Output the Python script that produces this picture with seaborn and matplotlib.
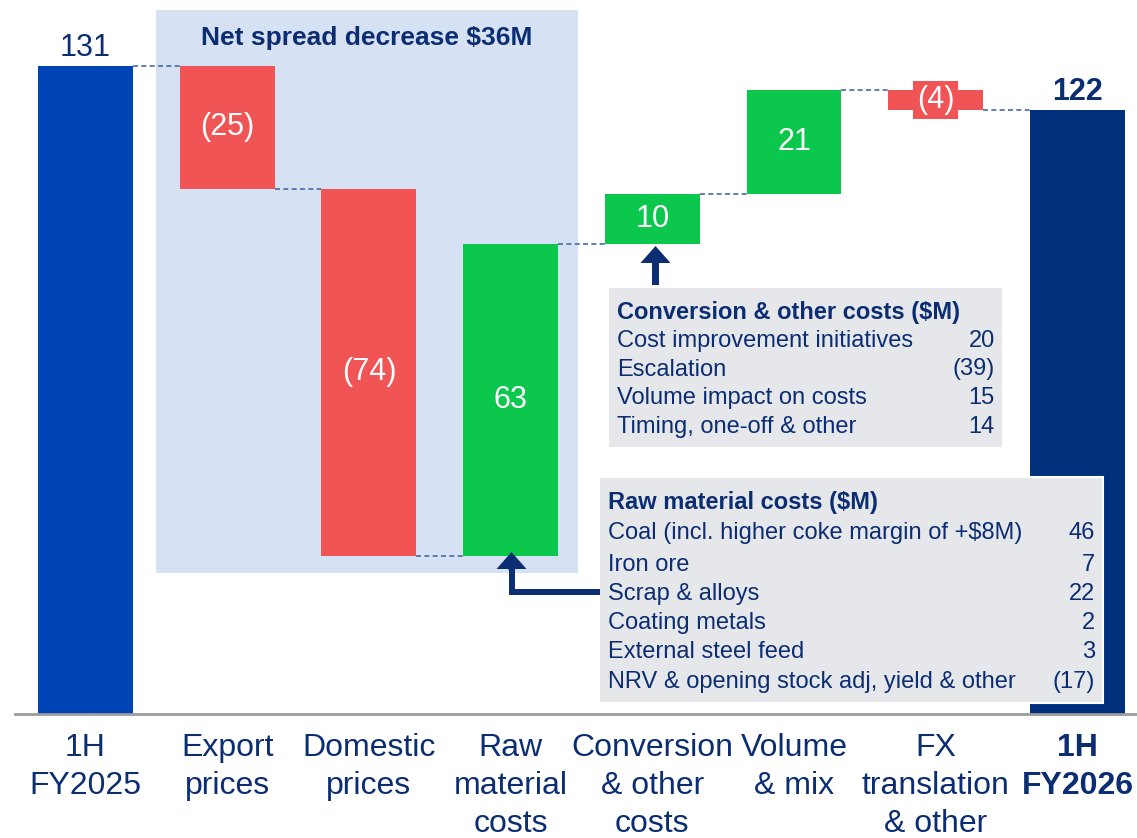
import matplotlib
matplotlib.use("Agg")
import matplotlib.pyplot as plt
from matplotlib.patches import Rectangle, FancyArrow
from matplotlib.lines import Line2D
import seaborn as sns

# waterfall data ($M)
categories = ["1H\nFY2025", "Export\nprices", "Domestic\nprices", "Raw\nmaterial\ncosts",
              "Conversion\n& other\ncosts", "Volume\n& mix", "FX\ntranslation\n& other", "1H\nFY2026"]
changes = [131, -25, -74, 63, 10, 21, -4, 122]
is_total = [True, False, False, False, False, False, False, True]

conv_title = "Conversion & other costs ($M)"
conv_items = ["Cost improvement initiatives", "Escalation", "Volume impact on costs", "Timing, one-off & other"]
conv_values = ["20", "(39)", "15", "14"]

raw_title = "Raw material costs ($M)"
raw_items = ["Coal (incl. higher coke margin of +$8M)", "Iron ore", "Scrap & alloys",
             "Coating metals", "External steel feed", "NRV & opening stock adj, yield & other"]
raw_values = ["46", "7", "22", "2", "3", "(17)"]

spread_title = "Net spread decrease $36M"

NAVY = "#0B2D72"
RED = "#F05454"
GREEN = "#0BC84C"
FIRST = "#0043B4"
LAST = "#002F7C"
SHADE = "#D6E1F3"
GREYBOX = "#E6E7EB"

W, H = 1137, 838

# build floating bars
bottoms, heights, levels, colors = [], [], [], []
running = 0
for i, (v, tot) in enumerate(zip(changes, is_total)):
    if tot:
        bottoms.append(0)
        heights.append(v)
        running = v
        colors.append(FIRST if i == 0 else LAST)
    else:
        new = running + v
        bottoms.append(min(running, new))
        heights.append(abs(v))
        running = new
        colors.append(GREEN if v > 0 else RED)
    levels.append(running)

sns.set_theme(style="white")
plt.rcParams['font.family'] = ['Liberation Sans', 'DejaVu Sans']

fig = plt.figure(figsize=(W / 100, H / 100), dpi=100)
step = 141.7
left_px = 85.5 - 0.5 * step
ax = fig.add_axes([left_px / W, (H - 714) / H, 7.92 * step / W, 714 / H])

bar_w = 0.67
sns.barplot(x=categories, y=heights, hue=categories, palette=colors, legend=False,
            width=bar_w, saturation=1, ax=ax, zorder=2)
for patch, b in zip(ax.patches, bottoms):
    patch.set_y(b)
    patch.set_linewidth(0)

ax.set_xlim(-0.5, 7.42)
ax.set_ylim(0, 714 / 4.95)


def fpx(x, y):
    return x / W, 1 - y / H


# shaded "net spread" region
ax.add_patch(Rectangle(fpx(156, 573), (578 - 156) / W, (573 - 10) / H, transform=fig.transFigure,
                       facecolor=SHADE, edgecolor="none", zorder=0))
fig.text(*fpx(367, 38), spread_title, ha="center", va="center", fontsize=19,
         fontweight="bold", color=NAVY)

# dashed connectors
for i in range(len(changes) - 1):
    ax.hlines(levels[i], i + bar_w / 2, i + 1 - bar_w / 2, colors="#4A6AA5",
              linestyles=(0, (3, 2)), linewidth=1.2, zorder=1)

# value labels
for i, v in enumerate(changes):
    txt = f"({abs(v)})" if v < 0 else str(v)
    if is_total[i]:
        ax.annotate(txt, (i, heights[i]), xytext=(0, 2), textcoords="offset points",
                    ha="center", va="bottom", fontsize=22, color=NAVY,
                    fontweight="bold" if i == len(changes) - 1 else "normal")
    elif abs(v) < 8:
        ax.text(i, bottoms[i] + heights[i] / 2, txt, ha="center", va="center", fontsize=22,
                color="white", zorder=3,
                bbox=dict(boxstyle="square,pad=0.13", facecolor=RED, edgecolor="none"))
    else:
        ax.text(i, bottoms[i] + heights[i] / 2, txt, ha="center", va="center", fontsize=22,
                color="white", zorder=3)

# axes styling
for s in ["top", "right", "left"]:
    ax.spines[s].set_visible(False)
ax.spines["bottom"].set_color("#9C9C9C")
ax.spines["bottom"].set_linewidth(2)
ax.set_yticks([])
ax.set_ylabel("")
ax.tick_params(axis="x", length=0, pad=14, labelsize=23, labelcolor=NAVY)
for j, lab in enumerate(ax.get_xticklabels()):
    lab.set_multialignment("center")
    lab.set_linespacing(1.34)
    if j == len(categories) - 1:
        lab.set_fontweight("bold")

# conversion table
fig.add_artist(Rectangle(fpx(609, 447), (1002 - 609) / W, (447 - 288) / H,
                         transform=fig.transFigure, facecolor=GREYBOX, edgecolor="none", zorder=3))
fig.text(*fpx(617, 312), conv_title, ha="left", va="center", fontsize=17,
         fontweight="bold", color=NAVY, zorder=4)
for k, (item, val) in enumerate(zip(conv_items, conv_values)):
    y = 341 + k * 28.5
    fig.text(*fpx(617, y), item, ha="left", va="center", fontsize=17, color=NAVY, zorder=4)
    fig.text(*fpx(995, y), val, ha="right", va="center", fontsize=17, color=NAVY, zorder=4)

# raw material table
fig.add_artist(Rectangle(fpx(599, 703), (1103 - 599) / W, (703 - 477) / H,
                         transform=fig.transFigure, facecolor=GREYBOX, edgecolor="white",
                         linewidth=1.5, zorder=3))
fig.text(*fpx(608, 502), raw_title, ha="left", va="center", fontsize=17,
         fontweight="bold", color=NAVY, zorder=4)
raw_y = [533, 565, 594, 623, 652, 682]
for item, val, y in zip(raw_items, raw_values, raw_y):
    fig.text(*fpx(608, y), item, ha="left", va="center", fontsize=17, color=NAVY, zorder=4)
    fig.text(*fpx(1095, y), val, ha="right", va="center", fontsize=17, color=NAVY, zorder=4)

# arrows (inches in figure)
tr = fig.dpi_scale_trans
fig.add_artist(FancyArrow(6.555, (H - 285) / 100, 0, (285 - 246) / 100, width=0.07,
                          head_width=0.30, head_length=0.17, length_includes_head=True,
                          color=NAVY, transform=tr, zorder=5, linewidth=0))
fig.add_artist(Line2D([6.00, 5.115, 5.115], [(H - 591.5) / 100, (H - 591.5) / 100, (H - 565) / 100],
                      color=NAVY, linewidth=4.3, solid_joinstyle="miter",
                      solid_capstyle="butt", transform=tr, zorder=5))
fig.add_artist(FancyArrow(5.115, (H - 570) / 100, 0, (570 - 552) / 100, width=0.06,
                          head_width=0.30, head_length=0.17, length_includes_head=True,
                          color=NAVY, transform=tr, zorder=5, linewidth=0))

fig.savefig("out.png", dpi=100)
